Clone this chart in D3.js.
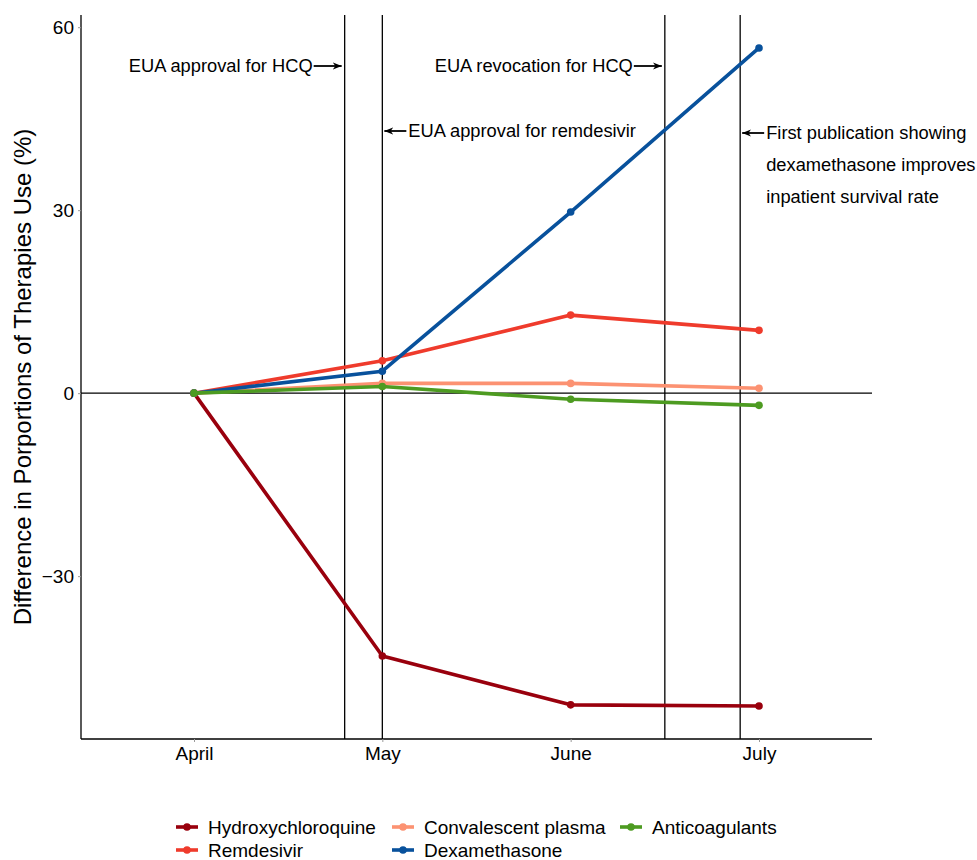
<!DOCTYPE html>
<html>
<head>
<meta charset="utf-8">
<script src="https://cdn.jsdelivr.net/npm/d3@7"></script>
<style>
  body { margin: 0; background: #fff; }
  text { font-family: "Liberation Sans", Arial, sans-serif; fill: #000; }
</style>
</head>
<body>
<div id="chart"></div>
<script>
// months on the x axis
var months = ["April", "May", "June", "July"];

// series values (difference in proportions, %)
var seriesNames = ["Hydroxychloroquine", "Remdesivir", "Convalescent plasma", "Dexamethasone", "Anticoagulants"];
var hydroxychloroquine = [0, -43.1, -51.1, -51.3];
var remdesivir = [0, 5.3, 12.8, 10.3];
var convalescentPlasma = [0, 1.6, 1.6, 0.8];
var dexamethasone = [0, 3.6, 29.7, 56.6];
var anticoagulants = [0, 1.1, -1.0, -2.0];
var seriesColors = ["#99000d", "#ef3b2c", "#fc9272", "#08519c", "#4d9b21"];

// y ticks
var yTicks = [-30, 0, 30, 60];

// events (position in month index units)
var eventPos = [0.8, 1.0, 2.5, 2.9];
var eventLabels = [
  ["EUA approval for HCQ"],
  ["EUA approval for remdesivir"],
  ["EUA revocation for HCQ"],
  ["First publication showing", "dexamethasone improves", "inpatient survival rate"]
];
var eventSide = ["left", "right", "left", "right"];

var svgWidth = 977;
var svgHeight = 860;
var margin = { top: 15, right: 105, bottom: 121, left: 81 };
var width = svgWidth - margin.left - margin.right;
var height = svgHeight - margin.top - margin.bottom;

var svg = d3.select("#chart").append("svg")
  .attr("width", svgWidth)
  .attr("height", svgHeight);

var chartGroup = svg.append("g")
  .attr("transform", `translate(${margin.left}, ${margin.top})`);

var allValues = [hydroxychloroquine, remdesivir, convalescentPlasma, dexamethasone, anticoagulants];
var data = seriesNames.map(function(name, i) {
  return { name: name, color: seriesColors[i], values: allValues[i].map((v, j) => ({ m: j, v: v })) };
});

var xScale = d3.scaleLinear().domain([-0.6, months.length - 1 + 0.6]).range([0, width]);
var yScale = d3.scaleLinear().domain([-56.7, 62.0]).range([height, 0]);

// axes
var bottomAxis = d3.axisBottom(xScale)
  .tickValues(d3.range(months.length))
  .tickFormat(i => months[i])
  .tickSize(3)
  .tickPadding(5);
var leftAxis = d3.axisLeft(yScale)
  .tickValues(yTicks)
  .tickFormat(d => d < 0 ? "\u2212" + Math.abs(d) : d)
  .tickSize(3)
  .tickPadding(4);

var xAxis = chartGroup.append("g")
  .attr("transform", `translate(0, ${height})`)
  .call(bottomAxis);
var yAxis = chartGroup.append("g").call(leftAxis);

[xAxis, yAxis].forEach(function(ax) {
  ax.select(".domain").attr("stroke", "#000").attr("stroke-width", 1.3);
  ax.selectAll(".tick line").attr("stroke", "#9a9a9a").attr("stroke-width", 1);
  ax.selectAll(".tick text").style("font-size", "19px").attr("fill", "#000");
});
yAxis.select(".domain").attr("d", `M0,0V${height}`);
xAxis.select(".domain").attr("d", `M0,0H${width}`);

// zero line
chartGroup.append("line")
  .attr("x1", 0).attr("x2", width)
  .attr("y1", yScale(0)).attr("y2", yScale(0))
  .attr("stroke", "#000").attr("stroke-width", 1.3);

// event lines
chartGroup.selectAll(".event-line")
  .data(eventPos)
  .enter()
  .append("line")
  .attr("class", "event-line")
  .attr("x1", d => xScale(d)).attr("x2", d => xScale(d))
  .attr("y1", 0).attr("y2", height)
  .attr("stroke", "#000").attr("stroke-width", 1.3);

// arrow marker
svg.append("defs").append("marker")
  .attr("id", "arrow")
  .attr("viewBox", "0 0 10 10")
  .attr("refX", 10).attr("refY", 5)
  .attr("markerWidth", 5).attr("markerHeight", 5)
  .attr("markerUnits", "strokeWidth")
  .attr("orient", "auto")
  .append("path")
  .attr("d", "M0,1 L10,5 L0,9 L3,5 Z")
  .attr("fill", "#000");

// annotation rows (pixel y within plot)
var annoY = [51, 116, 51, 118];
eventPos.forEach(function(p, i) {
  var x = xScale(p);
  var y = annoY[i];
  if (eventSide[i] === "left") {
    chartGroup.append("line")
      .attr("x1", x - 31).attr("x2", x - 3)
      .attr("y1", y).attr("y2", y)
      .attr("stroke", "#000").attr("stroke-width", 1.8)
      .attr("marker-end", "url(#arrow)");
    chartGroup.append("text")
      .attr("x", x - 32).attr("y", y)
      .attr("dy", "0.35em")
      .attr("text-anchor", "end")
      .style("font-size", "18.3px")
      .text(eventLabels[i][0]);
  } else {
    chartGroup.append("line")
      .attr("x1", x + 24).attr("x2", x + 2)
      .attr("y1", y).attr("y2", y)
      .attr("stroke", "#000").attr("stroke-width", 1.8)
      .attr("marker-end", "url(#arrow)");
    eventLabels[i].forEach(function(t, k) {
      chartGroup.append("text")
        .attr("x", x + 26).attr("y", y + k * 32)
        .attr("dy", "0.35em")
        .style("font-size", "18.3px")
        .text(t);
    });
  }
});

// lines and points
var line = d3.line().x(d => xScale(d.m)).y(d => yScale(d.v));

var seriesGroup = chartGroup.selectAll(".series")
  .data(data)
  .enter()
  .append("g")
  .attr("class", "series");

seriesGroup.append("path")
  .attr("d", d => line(d.values))
  .attr("fill", "none")
  .attr("stroke", d => d.color)
  .attr("stroke-width", 3.6)
  .attr("stroke-linejoin", "round");

seriesGroup.selectAll("circle")
  .data(d => d.values.map(v => ({ m: v.m, v: v.v, color: d.color })))
  .enter()
  .append("circle")
  .attr("cx", d => xScale(d.m))
  .attr("cy", d => yScale(d.v))
  .attr("r", 3.8)
  .attr("fill", d => d.color);

// y axis title
svg.append("text")
  .attr("transform", `translate(31, ${margin.top + height / 2}) rotate(-90)`)
  .attr("text-anchor", "middle")
  .style("font-size", "24px")
  .text("Difference in Porportions of Therapies Use (%)");

// legend (2 rows, filled by column)
var legendCols = [176, 392, 620];
var legendRows = [827, 850];
var legend = svg.append("g");
seriesNames.forEach(function(name, i) {
  var col = Math.floor(i / 2);
  var row = i % 2;
  var lx = legendCols[col];
  var ly = legendRows[row];
  legend.append("line")
    .attr("x1", lx).attr("x2", lx + 22)
    .attr("y1", ly).attr("y2", ly)
    .attr("stroke", seriesColors[i]).attr("stroke-width", 3.6);
  legend.append("circle")
    .attr("cx", lx + 11).attr("cy", ly).attr("r", 3.8)
    .attr("fill", seriesColors[i]);
  legend.append("text")
    .attr("x", lx + 32).attr("y", ly)
    .attr("dy", "0.35em")
    .style("font-size", "19px")
    .text(name);
});
</script>
</body>
</html>
